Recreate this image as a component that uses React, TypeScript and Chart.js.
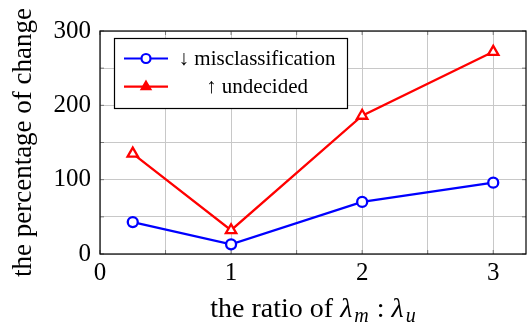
import React, { useEffect, useRef } from 'react';
import { Chart, registerables } from 'chart.js';

Chart.register(...registerables);

const xValues = [0.25, 1, 2, 3];
const misclassification = [43, 13, 70, 96];
const undecided = [135, 32, 186, 272];
const seriesLabels = ['↓ misclassification', '↑ undecided'];
const seriesColors = ['rgb(0,0,255)', 'rgb(255,0,0)'];
const yTitle = 'the percentage of change';
const xTitleParts = [
  { text: 'the ratio of ', italic: false, sub: false, gap: 0 },
  { text: 'λ', italic: true, sub: false, gap: 2 },
  { text: 'm', italic: true, sub: true, gap: 1 },
  { text: ' : ', italic: false, sub: false, gap: 0 },
  { text: 'λ', italic: true, sub: false, gap: 2 },
  { text: 'u', italic: true, sub: true, gap: 0 },
];

const SERIF = '"Liberation Serif", "Times New Roman", serif';

const frame = {
  id: 'frame',
  beforeDatasetsDraw(chart: any) {
    const { ctx, chartArea, scales } = chart;
    ctx.save();
    ctx.strokeStyle = '#777';
    ctx.lineWidth = 1;
    const xs = scales.x.ticks.map((t: any) => scales.x.getPixelForValue(t.value));
    const ys = scales.y.ticks.map((t: any) => scales.y.getPixelForValue(t.value));
    ctx.beginPath();
    xs.forEach((px: number) => {
      ctx.moveTo(px, chartArea.bottom);
      ctx.lineTo(px, chartArea.bottom - 4);
      ctx.moveTo(px, chartArea.top);
      ctx.lineTo(px, chartArea.top + 4);
    });
    ys.forEach((py: number) => {
      ctx.moveTo(chartArea.left, py);
      ctx.lineTo(chartArea.left + 4, py);
      ctx.moveTo(chartArea.right, py);
      ctx.lineTo(chartArea.right - 4, py);
    });
    ctx.stroke();
    ctx.restore();
  },
  afterDraw(chart: any) {
    const { ctx, chartArea } = chart;
    ctx.save();
    // legend
    const lx = chartArea.left + 14;
    const ly = chartArea.top + 7;
    const lw = 233;
    const lh = 70;
    ctx.fillStyle = '#fff';
    ctx.fillRect(lx, ly, lw, lh);
    ctx.strokeStyle = '#000';
    ctx.lineWidth = 1.2;
    ctx.strokeRect(lx + 0.5, ly + 0.5, lw, lh);
    const rows = [ly + 20.5, ly + 48.7];
    rows.forEach((ry, i) => {
      ctx.strokeStyle = seriesColors[i];
      ctx.lineWidth = 2.2;
      ctx.beginPath();
      ctx.moveTo(lx + 10, ry);
      ctx.lineTo(lx + 54, ry);
      ctx.stroke();
      const mx = lx + 32;
      if (i === 0) {
        ctx.fillStyle = '#fff';
        ctx.beginPath();
        ctx.arc(mx, ry, 4.5, 0, Math.PI * 2);
        ctx.fill();
        ctx.stroke();
      } else {
        ctx.fillStyle = seriesColors[i];
        const r = 5;
        ctx.beginPath();
        for (let k = 0; k < 3; k++) {
          const a = (k * 2 * Math.PI) / 3;
          const px = mx + Math.sin(a) * r;
          const py = ry - Math.cos(a) * r;
          if (k === 0) ctx.moveTo(px, py);
          else ctx.lineTo(px, py);
        }
        ctx.closePath();
        ctx.fill();
        ctx.stroke();
      }
      ctx.fillStyle = '#000';
      ctx.font = `21px ${SERIF}`;
      ctx.textAlign = 'center';
      ctx.textBaseline = 'middle';
      ctx.fillText(seriesLabels[i], lx + 143, ry + 1);
    });
    // plot box
    ctx.strokeStyle = '#000';
    ctx.lineWidth = 1.2;
    ctx.strokeRect(chartArea.left, chartArea.top, chartArea.right - chartArea.left, chartArea.bottom - chartArea.top);
    // x title with subscripts
    const fontFor = (p: any) => `${p.italic ? 'italic ' : ''}${p.sub ? 20 : 28}px ${SERIF}`;
    let total = 0;
    const widths = xTitleParts.map((p) => {
      ctx.font = fontFor(p);
      const w = ctx.measureText(p.text).width + p.gap;
      total += w;
      return w;
    });
    let x = (chartArea.left + chartArea.right) / 2 - total / 2;
    const base = 317;
    ctx.fillStyle = '#000';
    ctx.textAlign = 'left';
    ctx.textBaseline = 'alphabetic';
    xTitleParts.forEach((p, i) => {
      ctx.font = fontFor(p);
      ctx.fillText(p.text, x, p.sub ? base + 5 : base);
      x += widths[i];
    });
    ctx.restore();
  },
};

export default function App() {
  const ref = useRef<HTMLCanvasElement>(null);
  useEffect(() => {
    document.body.style.margin = '0';
    const chart = new Chart(ref.current as HTMLCanvasElement, {
      type: 'line',
      data: {
        datasets: [
          {
            label: seriesLabels[0],
            data: xValues.map((x, i) => ({ x, y: misclassification[i] })),
            borderColor: seriesColors[0],
            backgroundColor: '#fff',
            borderWidth: 2.3,
            pointStyle: 'circle',
            pointRadius: 5,
            pointBorderWidth: 2.3,
            pointBackgroundColor: '#fff',
            pointBorderColor: seriesColors[0],
          },
          {
            label: seriesLabels[1],
            data: xValues.map((x, i) => ({ x, y: undecided[i] })),
            borderColor: seriesColors[1],
            backgroundColor: '#fff',
            borderWidth: 2.3,
            pointStyle: 'triangle',
            pointRadius: 6,
            pointBorderWidth: 2.3,
            pointBackgroundColor: '#fff',
            pointBorderColor: seriesColors[1],
          },
        ],
      },
      options: {
        responsive: false,
        animation: false,
        devicePixelRatio: 1,
        layout: { autoPadding: false, padding: { left: 0, right: 1, top: 31, bottom: 0 } },
        plugins: { legend: { display: false }, tooltip: { enabled: false } },
        scales: {
          x: {
            type: 'linear',
            min: 0,
            max: 3.25,
            afterFit: (s: any) => {
              s.height = 71;
              s.paddingLeft = 0;
              s.paddingRight = 0;
            },
            ticks: {
              stepSize: 0.5,
              includeBounds: false,
              maxRotation: 0,
              autoSkip: false,
              padding: 4,
              color: '#000',
              font: { family: SERIF, size: 25 },
              callback: (v: any) => (Number.isInteger(Number(v)) ? String(v) : ''),
            },
            grid: { color: '#c8c8c8', lineWidth: 1, drawTicks: false },
            border: { display: false },
          },
          y: {
            type: 'linear',
            min: 0,
            max: 300,
            afterFit: (s: any) => {
              s.width = 100;
              s.paddingTop = 0;
              s.paddingBottom = 0;
            },
            ticks: {
              stepSize: 50,
              autoSkip: false,
              padding: 9,
              color: '#000',
              font: { family: SERIF, size: 25 },
              callback: (v: any) => (Number(v) % 100 === 0 ? String(v) : ''),
            },
            grid: { color: '#c8c8c8', lineWidth: 1, drawTicks: false },
            border: { display: false },
            title: {
              display: true,
              text: yTitle,
              color: '#000',
              font: { family: SERIF, size: 27 },
              padding: { top: 8, bottom: 0 },
            },
          },
        },
      },
      plugins: [frame],
    });
    return () => chart.destroy();
  }, []);
  return (
    <div style={{ width: 527, height: 325 }}>
      <canvas ref={ref} width={527} height={325} />
    </div>
  );
}
